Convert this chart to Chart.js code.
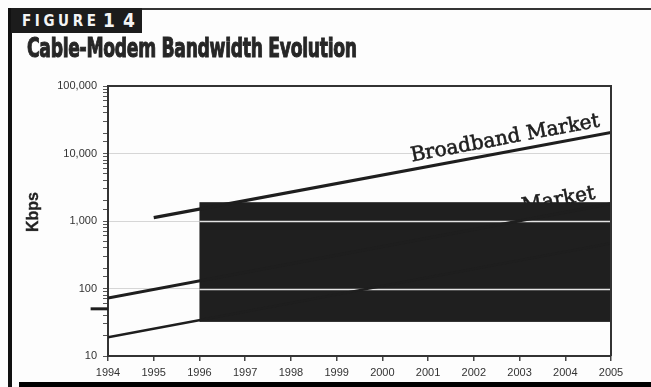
<!DOCTYPE html>
<html>
<head>
<meta charset="utf-8">
<script src="https://cdn.jsdelivr.net/npm/chart.js@4.4.1/dist/chart.umd.min.js"></script>
<style>
  html, body { margin: 0; padding: 0; background: #fff; }
  #page { position: relative; width: 651px; height: 387px; overflow: hidden; background: #fdfdfd; }
  #chart { position: absolute; left: 0; top: 0; }
  .rule { position: absolute; background: #111; }
  #figbox { position: absolute; left: 11px; top: 8px; width: 131px; height: 25px; background: #1c1c1c; color: #f4f4f4;
            font-family: "DejaVu Sans", sans-serif; font-weight: bold; font-stretch: condensed; white-space: nowrap; }
  #figbox span { position: absolute; white-space: nowrap; }
  #figword { left: 11px; top: 4px; font-size: 15px; }
  .fignum { top: 1px; font-size: 19px; }
  #title { position: absolute; left: 27px; top: 32px; font-family: "DejaVu Sans", sans-serif; font-weight: bold;
           font-size: 27px; color: #262626; white-space: nowrap; transform-origin: 0 0;
           -webkit-text-stroke: 1.1px #262626; letter-spacing: -0.5px; }
  #ylabel { position: absolute; left: 33px; top: 212px; font-family: "Liberation Sans", Arial, sans-serif; font-weight: bold;
            font-size: 16px; color: #222; transform: translate(-50%, -50%) rotate(-90deg); white-space: nowrap;
            -webkit-text-stroke: 0.3px #222; }
</style>
</head>
<body>
<div id="page">
  <canvas id="chart" width="651" height="387"></canvas>
  <div class="rule" style="left:8px; top:8px; width:4px; height:379px;"></div>
  <div class="rule" style="left:142px; top:8px; width:509px; height:2px; background:#333;"></div>
  <div class="rule" style="left:19px; top:382px; width:632px; height:5px; background:#000;"></div>
  <div id="figbox"><span id="figword">FIGURE</span><span class="fignum" style="left:92px;">1</span><span class="fignum" style="left:112px;">4</span></div>
  <div id="title">Cable-Modem Bandwidth Evolution</div>
  <div id="ylabel">Kbps</div>
</div>
<script>
// axis range and labelled ticks
const yearMin = 1994;
const yearMax = 2005;
const kbpsTicks = [10, 100, 1000, 10000, 100000];

// trend lines (start and end of each)
const broadbandYears = [1995, 2005];
const broadbandKbps = [1120, 20500];
const middleYears = [1994, 2005];
const middleKbps = [72, 1800];
const lowerYears = [1994, 2005];
const lowerKbps = [19, 470];
const stubYears = [1993.62, 1994];
const stubKbps = [50, 50];

// shaded block
const bandYears = [1996, 2005];
const bandKbps = [32, 1900];

const labelFont = '"DejaVu Serif", "Liberation Serif", serif';

const toPoints = (xs, ys) => xs.map((x, i) => ({ x: x, y: ys[i] }));

// spread the heading's letters over a given width
const figWord = document.getElementById('figword');
figWord.style.letterSpacing = ((74 - figWord.offsetWidth) / (figWord.textContent.length - 1)) + 'px';

// title squeezed to its column width
const titleEl = document.getElementById('title');
titleEl.style.transform = 'scaleX(' + (330 / titleEl.offsetWidth) + ')';

function labelAlong(ctx, chart, xs, ys, text, atYear, lift, size) {
    const sx = chart.scales.x, sy = chart.scales.y;
    const x0 = sx.getPixelForValue(xs[0]), y0 = sy.getPixelForValue(ys[0]);
    const x1 = sx.getPixelForValue(xs[1]), y1 = sy.getPixelForValue(ys[1]);
    const angle = Math.atan2(y1 - y0, x1 - x0);
    const px = sx.getPixelForValue(atYear);
    const py = y0 + (px - x0) * (y1 - y0) / (x1 - x0);
    ctx.save();
    ctx.translate(px, py);
    ctx.rotate(angle);
    ctx.font = size + 'px ' + labelFont;
    ctx.fillStyle = '#1e1e1e';
    ctx.strokeStyle = '#1e1e1e';
    ctx.lineWidth = 0.6;
    ctx.textAlign = 'right';
    ctx.textBaseline = 'alphabetic';
    ctx.fillText(text, 0, -lift);
    ctx.strokeText(text, 0, -lift);
    ctx.restore();
}

const bandPlugin = {
    id: 'band',
    beforeDatasetsDraw(chart) {
        const { ctx, scales: { x, y } } = chart;
        // label sitting behind the block
        labelAlong(ctx, chart, middleYears, middleKbps, 'Market', 2004.7, 8, 20);

        const l = x.getPixelForValue(bandYears[0]);
        const r = x.getPixelForValue(bandYears[1]);
        const t = y.getPixelForValue(bandKbps[1]);
        const b = y.getPixelForValue(bandKbps[0]);
        ctx.save();
        ctx.fillStyle = '#1f1f1f';
        ctx.fillRect(l, t, r - l, b - t);
        // gridlines show through the block
        ctx.strokeStyle = '#e4e4e4';
        ctx.lineWidth = 1.5;
        [100, 1000].forEach(v => {
            const gy = Math.round(y.getPixelForValue(v)) + 0.5;
            ctx.beginPath();
            ctx.moveTo(l, gy);
            ctx.lineTo(r, gy);
            ctx.stroke();
        });
        ctx.restore();
    },
    afterDatasetsDraw(chart) {
        labelAlong(chart.ctx, chart, broadbandYears, broadbandKbps, 'Broadband Market', 2004.8, 8, 20);
    },
    afterDraw(chart) {
        const { ctx, chartArea: a } = chart;
        ctx.save();
        ctx.strokeStyle = '#333';
        ctx.lineWidth = 2;
        ctx.beginPath();
        ctx.moveTo(a.left, a.top);
        ctx.lineTo(a.right, a.top);
        ctx.lineTo(a.right, a.bottom);
        ctx.stroke();
        ctx.restore();
    }
};

const lineStyle = { borderColor: '#1e1e1e', pointRadius: 0, tension: 0, fill: false };

new Chart(document.getElementById('chart').getContext('2d'), {
    type: 'line',
    data: {
        datasets: [
            Object.assign({ label: 'Broadband Market', data: toPoints(broadbandYears, broadbandKbps), borderWidth: 3.2 }, lineStyle),
            Object.assign({ label: 'Market', data: toPoints(middleYears, middleKbps), borderWidth: 3 }, lineStyle),
            Object.assign({ label: 'Lower', data: toPoints(lowerYears, lowerKbps), borderWidth: 2.5 }, lineStyle),
            Object.assign({ label: 'Stub', data: toPoints(stubYears, stubKbps), borderWidth: 3, clip: false }, lineStyle)
        ]
    },
    options: {
        responsive: false,
        animation: false,
        layout: { padding: { top: 86, right: 40, left: 0, bottom: 0 } },
        plugins: { legend: { display: false }, tooltip: { enabled: false } },
        scales: {
            x: {
                type: 'linear',
                min: yearMin,
                max: yearMax,
                afterFit(scale) { scale.height = 31; },
                ticks: {
                    stepSize: 1,
                    padding: 5,
                    color: '#333',
                    font: { family: '"Liberation Sans", Arial, sans-serif', size: 11 },
                    callback: v => String(v)
                },
                grid: { drawOnChartArea: false, tickLength: 5, tickColor: '#444', lineWidth: 1.5 },
                border: { color: '#333', width: 2 }
            },
            y: {
                type: 'logarithmic',
                min: kbpsTicks[0],
                max: kbpsTicks[kbpsTicks.length - 1],
                afterFit(scale) { scale.width = 108; },
                ticks: {
                    autoSkip: false,
                    padding: 6,
                    color: '#333',
                    font: { family: '"Liberation Sans", Arial, sans-serif', size: 11 },
                    callback: v => kbpsTicks.includes(v) ? v.toLocaleString('en-US') : ''
                },
                grid: {
                    tickLength: 5,
                    tickColor: '#555',
                    color: c => (c.tick && kbpsTicks.includes(c.tick.value) && c.tick.value > 10 && c.tick.value < 100000)
                        ? '#d6d6d6' : 'rgba(0,0,0,0)'
                },
                border: { color: '#333', width: 2 }
            }
        }
    },
    plugins: [bandPlugin]
});
</script>
</body>
</html>
